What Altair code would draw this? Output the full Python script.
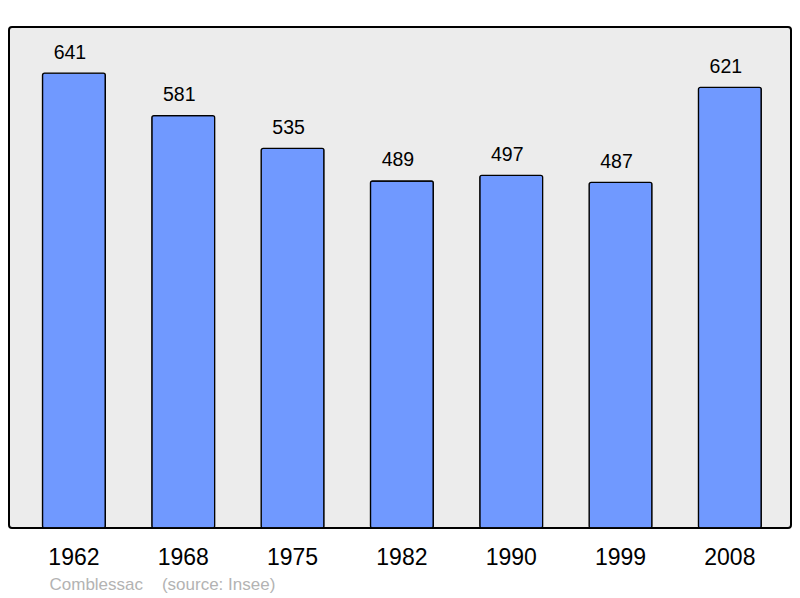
import altair as alt
import pandas as pd

years = ["1962", "1968", "1975", "1982", "1990", "1999", "2008"]
population = [641, 581, 535, 489, 497, 487, 621]

df = pd.DataFrame({"year": years, "pop": population})

FONT = "Liberation Sans"

x_enc = alt.X(
    "year:N",
    sort=years,
    scale=alt.Scale(paddingInner=0.425, paddingOuter=0.289, align=0.53),
    axis=alt.Axis(
        title="Comblessac\u00a0\u00a0\u00a0\u00a0(source: Insee)",
        titleX=40,
        titleY=61,
        titleAlign="left",
        titleBaseline="alphabetic",
        titleColor="#b3b3b3",
        titleFont=FONT,
        titleFontSize=17,
        titleFontWeight="normal",
        labelAngle=0,
        labelFont=FONT,
        labelFontSize=23,
        labelColor="black",
        labelBaseline="alphabetic",
        labelPadding=36,
        ticks=False,
        tickSize=0,
        domain=False,
        grid=False,
    ),
)
y_enc = alt.Y(
    "pop:Q",
    scale=alt.Scale(domain=[0, 706], nice=False),
    axis=None,
)

bars = alt.Chart(df).mark_bar(
    color="#7099ff", stroke="black", strokeWidth=1.3, cornerRadius=2
).encode(x=x_enc, y=y_enc)

labels = alt.Chart(df).mark_text(
    font=FONT, fontSize=19.5, color="black", baseline="alphabetic", dy=-14.5, dx=-4
).encode(x=alt.X("year:N", sort=years), y="pop:Q", text="pop:Q")

chart = (
    alt.layer(bars, labels)
    .properties(
        width=782,
        height=501,
        padding={"left": 1, "top": 19, "right": 1, "bottom": 5},
        background="white",
    )
    .configure_view(fill="#ececec", stroke="black", strokeWidth=2, cornerRadius=3)
)

chart.save("out.html", embed_options={"renderer": "svg", "actions": False})
